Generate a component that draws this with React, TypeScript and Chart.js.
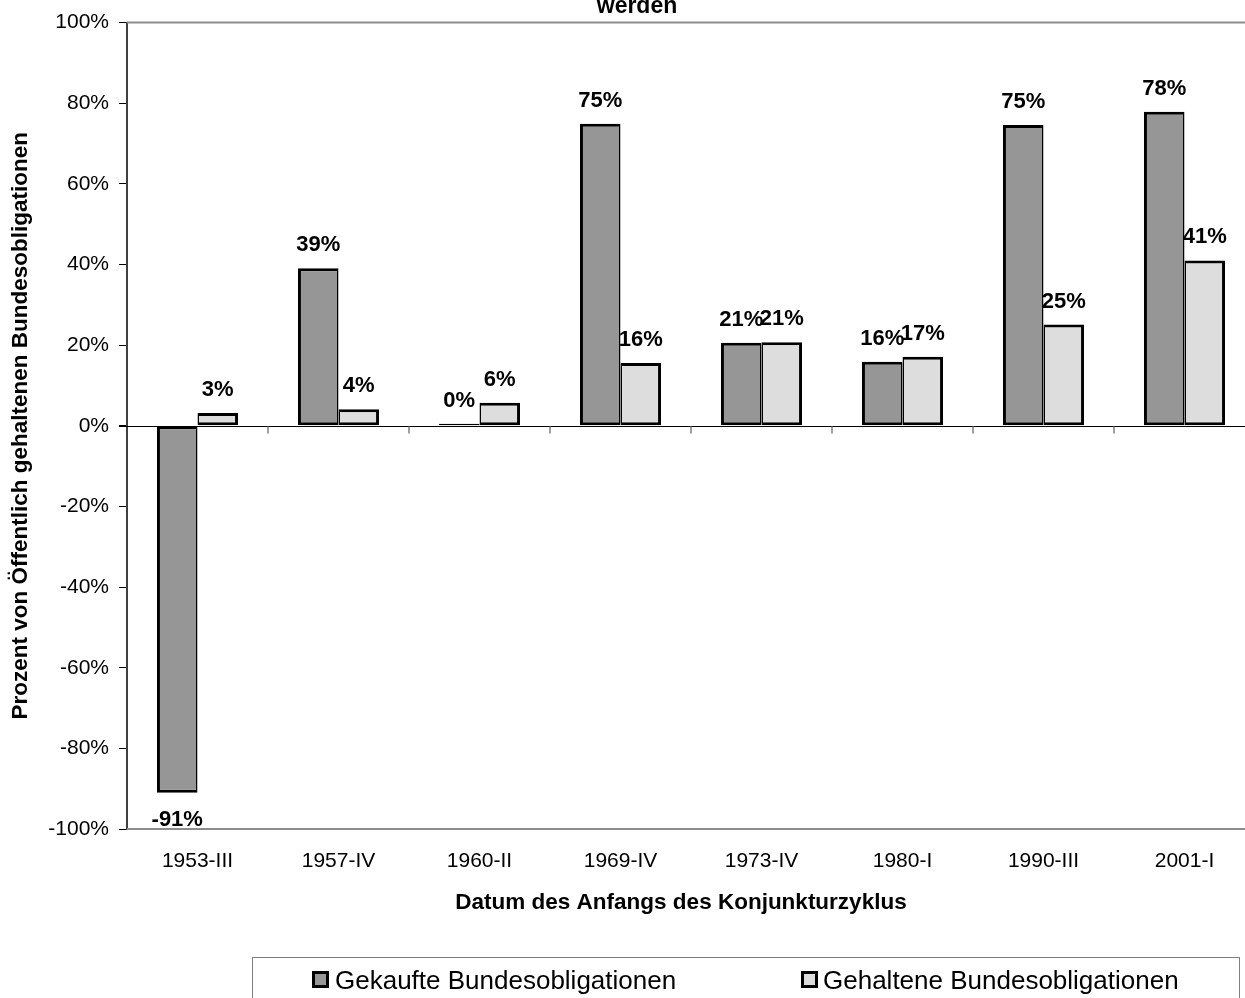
import React, { useEffect, useRef } from "react";
import { Chart, registerables } from "chart.js";

Chart.register(...registerables);

// Business-cycle start dates
const categories = ["1953-III", "1957-IV", "1960-II", "1969-IV", "1973-IV", "1980-I", "1990-III", "2001-I"];
// Share of publicly held federal bonds (percent)
const gekaufte = [-91.0, 39.1, 0.2, 74.9, 20.6, 15.9, 74.6, 77.9];
const gehaltene = [3.2, 4.1, 5.7, 15.6, 20.7, 17.1, 25.1, 41.0];
const seriesNames = ["Gekaufte Bundesobligationen", "Gehaltene Bundesobligationen"];
const seriesColors = ["#969696", "#DDDDDD"];

const chartTitle = "werden";
const xTitle = "Datum des Anfangs des Konjunkturzyklus";
const yTitle = "Prozent von Öffentlich gehaltenen Bundesobligationen";
const yMin = -100;
const yMax = 100;
const yStep = 20;

const FONT = "'Liberation Sans', Arial, Helvetica, sans-serif";
const CANVAS_W = 1270;
const CANVAS_H = 998;

// Frame, zero line, category ticks, value labels, titles and the boxed legend
const decorations = {
  id: "decorations",
  beforeDatasetsDraw(chart: any) {
    const { ctx, chartArea } = chart;
    ctx.save();
    ctx.strokeStyle = "#8c8c8c";
    ctx.lineWidth = 2;
    ctx.beginPath();
    ctx.moveTo(chartArea.left, chartArea.top);
    ctx.lineTo(chartArea.right, chartArea.top);
    ctx.moveTo(chartArea.left, chartArea.bottom);
    ctx.lineTo(chartArea.right, chartArea.bottom);
    ctx.stroke();
    ctx.restore();
  },
  afterDatasetsDraw(chart: any) {
    const { ctx, chartArea, scales } = chart;
    const x = scales.x;
    const y = scales.y;
    const y0 = Math.round(y.getPixelForValue(0)) + 0.5;

    ctx.save();
    // category axis at zero
    ctx.strokeStyle = "#000";
    ctx.lineWidth = 1;
    ctx.beginPath();
    ctx.moveTo(chartArea.left - 8, y0);
    ctx.lineTo(chartArea.right, y0);
    ctx.stroke();

    // tick marks between categories
    ctx.strokeStyle = "#808080";
    ctx.lineWidth = 1.5;
    ctx.beginPath();
    for (let i = 0; i < categories.length - 1; i++) {
      const bx = (x.getPixelForTick(i) + x.getPixelForTick(i + 1)) / 2;
      ctx.moveTo(bx, y0);
      ctx.lineTo(bx, y0 + 7);
    }
    ctx.stroke();

    // value labels
    ctx.fillStyle = "#000";
    ctx.font = `bold 22px ${FONT}`;
    ctx.textAlign = "center";
    ctx.textBaseline = "alphabetic";
    chart.data.datasets.forEach((ds: any, di: number) => {
      const meta = chart.getDatasetMeta(di);
      meta.data.forEach((bar: any, i: number) => {
        const v = ds.data[i];
        const txt = `${Math.round(v)}%`;
        const ty = v >= 0 ? Math.min(bar.y, y0) - 17 : bar.y + 33;
        ctx.fillText(txt, bar.x, ty);
      });
    });

    // chart title (last line)
    ctx.font = `bold 23px ${FONT}`;
    ctx.fillText(chartTitle, 637, 13);

    // category axis title
    ctx.font = `bold 22.5px ${FONT}`;
    ctx.textBaseline = "middle";
    ctx.fillText(xTitle, 681, 903);

    // legend
    const boxL = 252, boxT = 957, boxR = 1239;
    ctx.strokeStyle = "#808080";
    ctx.lineWidth = 1;
    ctx.strokeRect(boxL + 0.5, boxT + 0.5, boxR - boxL, 80);
    const items = [
      { mx: 312, tx: 335 },
      { mx: 801, tx: 823 },
    ];
    ctx.font = `26px ${FONT}`;
    ctx.textAlign = "left";
    ctx.textBaseline = "alphabetic";
    chart.data.datasets.forEach((ds: any, di: number) => {
      const it = items[di];
      ctx.fillStyle = ds.backgroundColor;
      ctx.fillRect(it.mx, 971, 17, 17);
      ctx.strokeStyle = "#000";
      ctx.lineWidth = 3;
      ctx.strokeRect(it.mx + 1.5, 972.5, 14, 14);
      ctx.fillStyle = "#000";
      ctx.fillText(ds.label, it.tx, 989);
    });
    ctx.restore();
  },
};

export default function App() {
  const canvasRef = useRef<HTMLCanvasElement | null>(null);

  useEffect(() => {
    if (!canvasRef.current) return;
    const chart = new Chart(canvasRef.current, {
      type: "bar",
      data: {
        labels: categories,
        datasets: [
          {
            label: seriesNames[0],
            data: gekaufte,
            backgroundColor: seriesColors[0],
            borderColor: "#000",
            borderWidth: { top: 3, bottom: 3, left: 3, right: 1.5 },
            borderSkipped: false,
            inflateAmount: 0,
            minBarLength: 2,
          },
          {
            label: seriesNames[1],
            data: gehaltene,
            backgroundColor: seriesColors[1],
            borderColor: "#000",
            borderWidth: { top: 3, bottom: 3, left: 1.5, right: 3 },
            borderSkipped: false,
            inflateAmount: 0,
          },
        ],
      },
      options: {
        responsive: false,
        animation: false,
        devicePixelRatio: 1,
        layout: { padding: { top: 20, right: 15, left: 0, bottom: 0 } },
        datasets: {
          bar: { categoryPercentage: 0.575, barPercentage: 1.0 },
        },
        plugins: {
          legend: { display: false },
          title: { display: false },
          tooltip: { enabled: false },
        },
        scales: {
          x: {
            grid: { display: false, drawTicks: false },
            border: { display: false },
            ticks: {
              color: "#000",
              font: { family: FONT, size: 21 },
              padding: 20,
              maxRotation: 0,
              autoSkip: false,
            },
            afterFit(scale: any) {
              scale.height = 169;
            },
          },
          y: {
            min: yMin,
            max: yMax,
            ticks: {
              stepSize: yStep,
              color: "#000",
              font: { family: FONT, size: 21 },
              padding: 10,
              callback: (v: any) => `${v}%`,
            },
            grid: {
              drawOnChartArea: false,
              drawTicks: true,
              tickLength: 8,
              color: "#000",
              lineWidth: 1,
            },
            border: { display: true, color: "#404040", width: 2 },
            title: {
              display: true,
              text: yTitle,
              color: "#000",
              font: { family: FONT, size: 22.5, weight: "bold" },
              padding: { top: 7, bottom: 0 },
            },
            afterFit(scale: any) {
              scale.width = 127;
            },
          },
        },
      },
      plugins: [decorations],
    });
    return () => chart.destroy();
  }, []);

  return (
    <div
      style={{
        position: "fixed",
        left: 0,
        top: 0,
        width: 1245,
        height: 998,
        overflow: "hidden",
        background: "#fff",
      }}
    >
      <canvas
        ref={canvasRef}
        width={CANVAS_W}
        height={CANVAS_H}
        style={{ display: "block", width: CANVAS_W, height: CANVAS_H }}
      />
    </div>
  );
}
